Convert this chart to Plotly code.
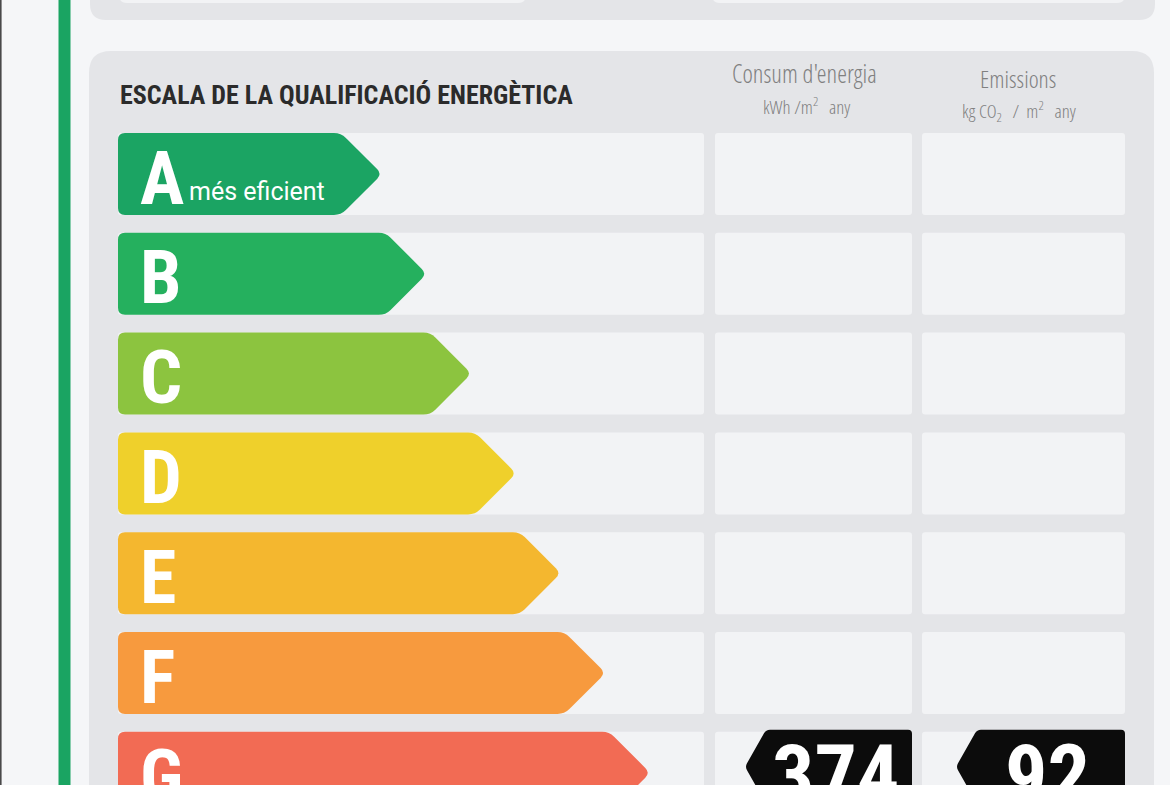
"""Energy rating label (escala de la qualificació energètica) drawn with Plotly shapes."""

import math

import plotly.graph_objects as go

# ---- data -----------------------------------------------------------------
ratings = ["A", "B", "C", "D", "E", "F", "G"]
rating_colors = ["#1ba463", "#25b05e", "#8cc43f", "#efd02b", "#f4b72f", "#f79a3e", "#f26b54"]
rating_notes = ["més eficient", "", "", "", "", "", "menys eficient"]
current_rating = "G"
consumption = [374]   # kWh/m² any
emissions = [92]      # kg CO2/m² any

title = "ESCALA DE LA QUALIFICACIÓ ENERGÈTICA"
column_titles = ["Consum d'energia", "Emissions"]
column_units = ["kWh /m<sup>2</sup>   any", "kg CO<sub>2</sub>   /  m<sup>2</sup>   any"]

# ---- layout geometry (pixels, y grows downward) ----------------------------
W, H = 1170, 785
ROW_TOP0, ROW_PITCH, ROW_H = 133, 99.8, 82
ARROW_X0, ARROW_TIP0, ARROW_STEP = 118, 382, 44.7
CELLS = [(715, 912), (922, 1125)]
BAND_X1 = 704

BG = "#f5f6f8"
PANEL = "#e4e5e8"
CELL = "#f2f3f5"
COND = "Roboto Condensed, DejaVu Sans Condensed, sans-serif"
LIGHT = "Open Sans Condensed Light, Roboto Condensed, sans-serif"


def rounded_path(pts, r):
    """SVG path of a closed polygon with rounded corners."""
    n = len(pts)
    out = []
    for i in range(n):
        px, py = pts[i - 1]
        cx, cy = pts[i]
        nx, ny = pts[(i + 1) % n]
        d1 = math.hypot(px - cx, py - cy)
        d2 = math.hypot(nx - cx, ny - cy)
        rr = min(r, d1 / 2, d2 / 2)
        a = (cx + (px - cx) / d1 * rr, cy + (py - cy) / d1 * rr)
        b = (cx + (nx - cx) / d2 * rr, cy + (ny - cy) / d2 * rr)
        out.append((a, (cx, cy), b))
    s = f"M{out[0][0][0]:.1f},{out[0][0][1]:.1f}"
    for a, c, b in out:
        s += f" L{a[0]:.1f},{a[1]:.1f} Q{c[0]:.1f},{c[1]:.1f} {b[0]:.1f},{b[1]:.1f}"
    return s + " Z"


def rect(x0, y0, x1, y1):
    return [(x0, y0), (x1, y0), (x1, y1), (x0, y1)]


shapes = []


def add(pts, color, r=0):
    shapes.append(dict(
        type="path", xref="x", yref="y", path=rounded_path(pts, r),
        fillcolor=color, line=dict(width=0), layer="below",
    ))


# page edges
add(rect(0, -5, 1.6, H + 5), "#4a4a4a")
add(rect(58.5, -5, 70.5, H + 5), "#1aa462")

# upper (previous) panel, cut by the top edge
add(rect(90, -40, 1155, 20), PANEL, r=16)
add(rect(119, -40, 526, 3), CELL, r=8)
add(rect(712, -40, 1125, 3), CELL, r=8)

# main panel
add(rect(89, 51, 1154, H + 40), PANEL, r=22)

annotations = []


def text(x, y, s, size, color, bold=False, xanchor="center", family=COND):
    annotations.append(dict(
        x=x, y=y, xref="x", yref="y", text=f"<b>{s}</b>" if bold else s,
        showarrow=False, xanchor=xanchor, yanchor="middle",
        font=dict(family=family, size=size, color=color),
    ))


HEAD = "#808080"
text(118, 95, title, 26, "#2b2b2b", bold=True, xanchor="left")
text(804, 73, column_titles[0], 25, HEAD, family=LIGHT)
text(806, 106, column_units[0], 19, HEAD, family=LIGHT)
text(1018, 78, column_titles[1], 24, HEAD, family=LIGHT)
text(1019, 111, column_units[1], 19, HEAD, family=LIGHT)

for i, (lab, col, note) in enumerate(zip(ratings, rating_colors, rating_notes)):
    top = ROW_TOP0 + i * ROW_PITCH
    bot = top + ROW_H
    mid = (top + bot) / 2
    # white band behind the arrow and the two value cells
    add(rect(ARROW_X0, top, BAND_X1, bot), CELL, r=3)
    for c0, c1 in CELLS:
        add(rect(c0, top, c1, bot), CELL, r=3)
    # rating arrow, longer for each worse class
    tip = ARROW_TIP0 + i * ARROW_STEP
    half = ROW_H / 2
    add([(ARROW_X0, top), (tip - half, top), (tip, mid), (tip - half, bot), (ARROW_X0, bot)],
        col, r=7)
    text(138, mid + 4, lab, 74, "white", bold=True, xanchor="left")
    if note:
        text(187, mid + 17, note, 25, "white", xanchor="left", family="Roboto, sans-serif")

# black value markers on the current rating row
k = ratings.index(current_rating)
top = ROW_TOP0 + k * ROW_PITCH - 2
bot = top + 74
mid = (top + bot) / 2
for (c0, c1), vals in zip(CELLS, [consumption, emissions]):
    tipx = c0 + 30 if c0 < 900 else c0 + 34
    add([(tipx, mid), (tipx + 21, top), (c1, top), (c1, bot), (tipx + 21, bot)], "#0c0c0c", r=4)
    text((tipx + 21 + c1) / 2 - 4, top + 46, str(vals[0]), 84, "white", bold=True)

fig = go.Figure()
fig.update_layout(
    width=W, height=H,
    margin=dict(l=0, r=0, t=0, b=0),
    paper_bgcolor=BG, plot_bgcolor=BG,
    xaxis=dict(range=[0, W], visible=False, fixedrange=True),
    yaxis=dict(range=[H, 0], visible=False, fixedrange=True),
    shapes=shapes, annotations=annotations, showlegend=False,
)
fig.write_html("out.html", config={"displayModeBar": False},
               post_script="document.body.style.margin='0px';")
